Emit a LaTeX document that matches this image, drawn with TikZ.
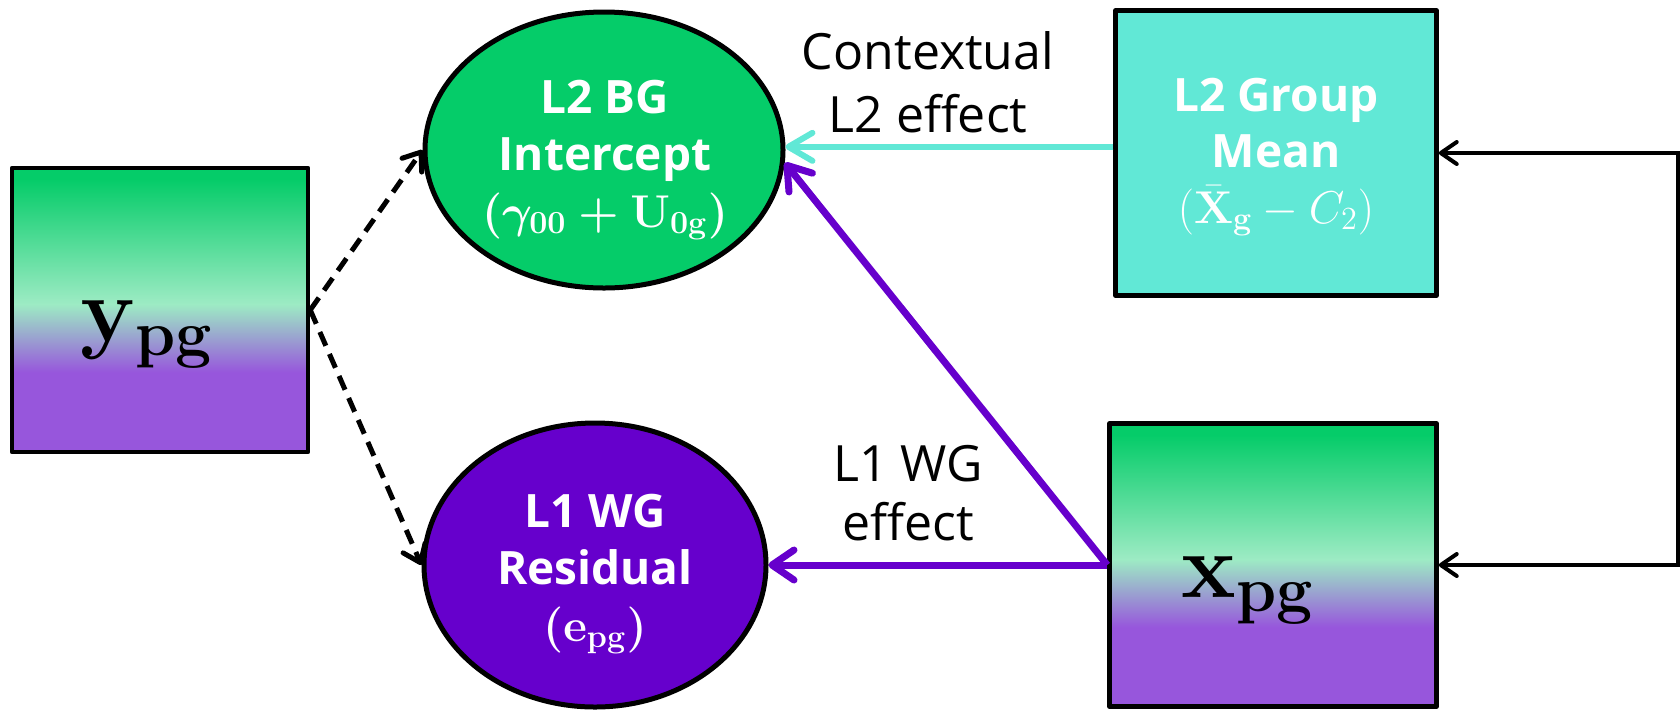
\RequirePackage{fix-cm}
\documentclass[tikz,border=0pt]{standalone}
\usepackage{amsmath}
\usepackage[no-math]{fontspec}
\setmainfont{Open Sans}
\usetikzlibrary{arrows.meta,shapes.geometric}
\definecolor{vgreen}{HTML}{05CC69}
\definecolor{vlight}{HTML}{9DEBC4}
\definecolor{vpurp}{HTML}{9756DC}
\definecolor{cyanfill}{HTML}{61E8D6}
\definecolor{deeppurple}{HTML}{6600CC}
\pgfdeclareverticalshading{vargrad}{100bp}{color(0bp)=(vpurp); color(25bp)=(vpurp); color(39bp)=(vpurp); color(51bp)=(vlight); color(73bp)=(vgreen); color(75bp)=(vgreen); color(100bp)=(vgreen)}
\newcommand{\bgformula}{{\boldmath$(\gamma_{00}+\mathbf{U}_{\mathbf{0g}})$}}
\newcommand{\wgformula}{{\boldmath$(\mathbf{e}_{\mathbf{pg}})$}}
\begin{document}
\begin{tikzpicture}[x=0.5pt,y=-0.5pt,
  box/.style={rectangle, draw=black, line width=2.25pt, line join=round, inner sep=0pt},
  gradbox/.style={box, shade, shading=vargrad},
  ell/.style={ellipse, draw=black, line width=2.5pt, inner sep=0pt},
  wtext/.style={text=white, font=\fontsize{23}{28.5}\selectfont\bfseries, align=center, inner sep=0pt},
  bigmath/.style={font=\fontsize{46}{54}\selectfont, inner sep=0pt},
  lbl/.style={font=\fontsize{25}{31.5}\selectfont, align=center, inner sep=0pt},
  dasharrow/.style={draw=black, line width=2.5pt, dash pattern=on 7.5pt off 4.5pt, -{Straight Barb[length=8pt,width=12pt,round]}},
  purparrow/.style={draw=deeppurple, line width=3.5pt, -{Straight Barb[length=11pt,width=15pt,round]}},
  cyanarrow/.style={draw=cyanfill, line width=3pt, -{Straight Barb[length=12pt,width=14pt,round]}},
  looparrow/.style={draw=black, line width=2pt, {Straight Barb[length=8pt,width=11pt,round]}-{Straight Barb[length=8pt,width=11pt,round]}}
]
\useasboundingbox (0,0) rectangle (1680,709);

% nodes
\node[gradbox, minimum width=148pt, minimum height=142pt] (ypg) at (160,310) {};
\node[ell, fill=vgreen, minimum width=179pt, minimum height=138pt] (bg) at (604,150) {};
\node[ell, fill=deeppurple, minimum width=171pt, minimum height=142pt] (wg) at (595,565) {};
\node[box, fill=cyanfill, minimum width=160.5pt, minimum height=142.5pt] (gm) at (1276,153) {};
\node[gradbox, minimum width=163.5pt, minimum height=141.5pt] (xpg) at (1273,565) {};

% texts
\node[bigmath] (ypgt) at (147,334) {$\mathbf{y}_{\mathbf{pg}}$};
\node[bigmath] (xpgt) at (1248,590) {$\mathbf{x}_{\mathbf{pg}}$};
\node[wtext] (bgt) at (605,160) {L2 BG\\Intercept\\\bgformula};
\node[wtext] (wgt) at (595,574) {L1 WG\\Residual\\\wgformula};
\node[wtext, font=\fontsize{23}{28}\selectfont\bfseries] (gmt) at (1276,157) {L2 Group\\Mean\\$(\bar{\mathbf{X}}_{\mathbf{g}}-C_2)$};
\node[lbl] (ctx) at (928,82) {Contextual\\L2 effect};
\node[lbl, font=\fontsize{25}{29.5}\selectfont] (wge) at (908,493) {L1 WG\\effect};

% connectors
\coordinate (loopx) at (1678,360);
\draw[dasharrow] (ypg.east) -- (bg.west);
\draw[dasharrow] (ypg.east) -- (wg.west);
\draw[cyanarrow] (gm.west |- bg.1) -- (bg.1);
\draw[purparrow] (xpg.west) -- (wg.east);
\draw[purparrow] (xpg.west) -- (bg.-4);
\draw[looparrow] (gm.east) -| (loopx) |- (xpg.east);
\end{tikzpicture}
\end{document}
